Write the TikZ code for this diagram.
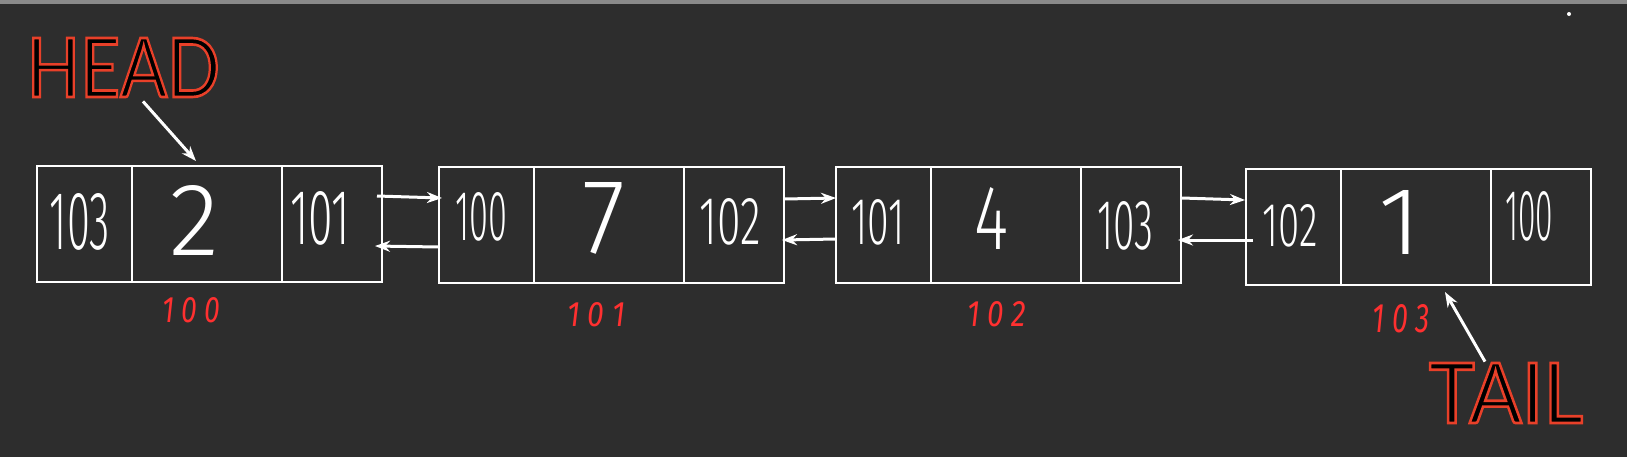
\documentclass[tikz,border=0pt]{standalone}
\usepackage{fontspec}
\setmainfont{Fira Sans}
\newfontfamily\hand{Fira Sans Light}
\newfontfamily\titlefont{Lato}
\usetikzlibrary{arrows.meta,calc}
\definecolor{bg}{RGB}{45,45,45}
\definecolor{topbar}{RGB}{138,138,138}
\definecolor{lblred}{RGB}{255,48,48}
\newcommand\fitto[3]{\resizebox{#1}{#2}{#3}}
\newcommand\outlined[1]{\textcolor{black}{\special{pdf:code 2 Tr 0.91 0.25 0.16 RG 0.32 w}#1\special{pdf:code 0 Tr}}}
\tikzset{
  cell/.style={draw=white,line width=1pt,minimum height=58pt,inner sep=0pt,outer sep=0pt},
  ptrcell/.style={cell,minimum width=47.5pt},
  valcell/.style={cell,minimum width=75pt},
  nextcell/.style={cell,minimum width=50pt},
  digit/.style={text=white,inner sep=0pt,font=\hand},
  addr/.style={text=lblred,inner sep=0pt,font=\itshape},
  link/.style={draw=white,line width=1.5pt,-{Stealth[length=7.5pt,width=5.5pt]}},
  title/.style={inner sep=0pt,font=\titlefont},
}
\begin{document}
\begin{tikzpicture}[x=0.5pt,y=-0.5pt]
\fill[bg] (0,0) rectangle (1627,457);
\fill[topbar] (0,0) rectangle (1627,4);
\useasboundingbox (0,0) rectangle (1627,457);
\fill[white] (1569,14) circle (1pt);

% box 1
\node[ptrcell]  (b1l) at (84.5,224) {};
\node[valcell]  (b1m) at (207,224) {};
\node[nextcell] (b1r) at (332,224) {};
% box 2
\node[ptrcell]  (b2l) at (486.5,224.5) {};
\node[valcell]  (b2m) at (609,224.5) {};
\node[nextcell] (b2r) at (734,224.5) {};
% box 3
\node[ptrcell]  (b3l) at (883.5,225) {};
\node[valcell]  (b3m) at (1006,225) {};
\node[nextcell] (b3r) at (1131,225) {};
% box 4
\node[ptrcell]  (b4l) at (1293.5,227) {};
\node[valcell]  (b4m) at (1416,227) {};
\node[nextcell] (b4r) at (1541,227) {};

% cell texts
\node[digit] (t1l) at (80,222)  {\fitto{30pt}{28pt}{103}};
\node[digit] (t1m) at (195,220) {\fitto{25pt}{35pt}{2}};
\node[digit] (t1r) at (320,218) {\fitto{30pt}{26.5pt}{101}};
\node[digit] (t2l) at (481,217) {\fitto{26pt}{24pt}{100}};
\node[digit] (t2m) at (604,218) {\fitto{21.5pt}{35.5pt}{7}};
\node[digit] (t2r) at (730,222) {\fitto{30.5pt}{23pt}{102}};
\node[digit] (t3l) at (878,222) {\fitto{26.5pt}{22.5pt}{101}};
\node[digit] (t3m) at (991,218) {\fitto{17pt}{31pt}{4}};
\node[digit] (t3r) at (1125,226) {\fitto{28pt}{24pt}{103}};
\node[digit] (t4l) at (1290,226) {\fitto{27.5pt}{21pt}{102}};
\node[digit] (t4m) at (1400,222) {\fitto{21.5pt}{32pt}{1}};
\node[digit] (t4r) at (1529,216) {\fitto{24pt}{24.5pt}{100}};

% address labels
\node[addr] (a1) at (191,310)  {\fitto{29pt}{12.5pt}{1 0 0}};
\node[addr] (a2) at (596,315)  {\fitto{29pt}{12pt}{1 0 1}};
\node[addr] (a3) at (997,314)  {\fitto{29.5pt}{12.5pt}{1 0 2}};
\node[addr] (a4) at (1401,319) {\fitto{28.5pt}{14pt}{1 0 3}};

% links
\draw[link] ($(b1r.east)+(-5,-28)$) -- ($(b2l.west)+(3,-26.5)$);
\draw[link] ($(b2l.west)+(0,22.5)$) -- ($(b1r.east)+(-7,22)$);
\draw[link] ($(b2r.east)+(0,-25.5)$) -- ($(b3l.west)+(0,-27)$);
\draw[link] ($(b3l.west)+(0,14)$) -- ($(b2r.east)+(-2,15.5)$);
\draw[link] ($(b3r.east)+(1,-27)$) -- ($(b4l.west)+(-1,-27)$);
\draw[link] ($(b4l.west)+(7,13)$) -- ($(b3r.east)+(-3,15)$);

% HEAD / TAIL
\node[title] (head) at (123.5,67.5) {\fitto{96.5pt}{29.5pt}{\outlined{HEAD}}};
\node[title] (tail) at (1506,393)   {\fitto{77pt}{30pt}{\outlined{TAIL}}};
\draw[link] ($(head.south)+(19.5,4)$) -- ($(b1m.north)+(-11,-5)$);
\draw[link] ($(tail.north)+(-21,-1)$) -- ($(b4m.south)+(29,7)$);
\end{tikzpicture}
\end{document}
